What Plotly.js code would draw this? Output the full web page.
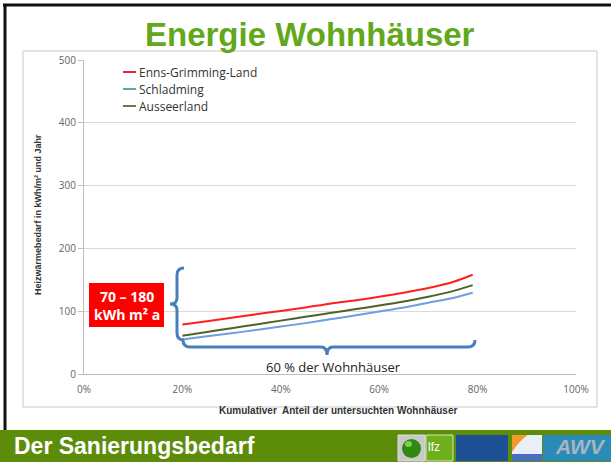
<!DOCTYPE html>
<html>
<head>
<meta charset="utf-8">
<script src="https://cdn.plot.ly/plotly-3.0.1.min.js"></script>
<style>
html,body{margin:0;padding:0;background:#fff;}
#chart{width:611px;height:462px;}
</style>
</head>
<body>
<div id="chart"></div>
<script>
// ---- data ----
const shareOfHouses = [0.20, 0.25, 0.30, 0.35, 0.40, 0.45, 0.50, 0.55, 0.60, 0.65, 0.70, 0.75, 0.79];
const ennsGrimmingLand = [79, 84, 89.5, 95, 100.5, 106, 112, 117, 123, 129.5, 137, 146.5, 158];
const schladming       = [55, 60, 65, 70, 75.5, 81, 87, 93, 99.5, 106, 113.5, 121, 129.5];
const ausseerland      = [61, 67, 73, 79, 85, 91, 97, 103, 109, 115.5, 123, 132, 141.5];
const seriesNames = ['Enns-Grimming-Land', 'Schladming', 'Ausseerland'];
const yTickValues = [0, 100, 200, 300, 400, 500];
const xTickValues = [0, 0.2, 0.4, 0.6, 0.8, 1.0];

const lineColors   = ['#ff1f1f', '#6e9ee0', '#4f6228'];
const legendColors = ['#ef2040', '#5fa8a6', '#6b7a45'];

// ---- geometry helpers (plot area in pixels) ----
const W = 611, H = 462, L = 84, R = 35, T = 60, B = 88;
const PW = W - L - R, PH = H - T - B;
const px = x => (x - L) / PW;
const py = y => (H - B - y) / PH;
function path(cmds) {
  return cmds.map(c => {
    const op = c[0]; const nums = c.slice(1); const out = [];
    for (let i = 0; i < nums.length; i += 2) out.push(px(nums[i]).toFixed(5) + ',' + py(nums[i+1]).toFixed(5));
    return op + out.join(' ');
  }).join(' ');
}
function note(x, y, text, font, extra) {
  return Object.assign({xref:'paper', yref:'paper', x: px(x), y: py(y), text: text, showarrow:false,
    xanchor:'center', yanchor:'middle', font: font}, extra || {});
}

const seriesValues = [ennsGrimmingLand, schladming, ausseerland];
const traces = seriesValues.map((vals, i) => ({
  type: 'scatter', mode: 'lines', x: shareOfHouses, y: vals, name: seriesNames[i],
  line: {color: lineColors[i], width: 2, shape: 'spline', smoothing: 0.8},
  showlegend: false, hoverinfo: 'skip'
}));

const shapes = [];
const annotations = [];

// slide frame
shapes.push({type:'line', xref:'paper', yref:'paper', x0: px(3), x1: px(W), y0: py(5), y1: py(5),
  line:{color:'#111', width:3}});
shapes.push({type:'line', xref:'paper', yref:'paper', x0: px(5), x1: px(5), y0: py(4), y1: py(431),
  line:{color:'#111', width:3}});
// chart box
shapes.push({type:'rect', xref:'paper', yref:'paper', x0: px(23), x1: px(597), y0: py(407), y1: py(51),
  line:{color:'#c8c8c8', width:1}, fillcolor:'rgba(0,0,0,0)', layer:'below'});
// bottom bar
shapes.push({type:'rect', xref:'paper', yref:'paper', x0: px(0), x1: px(W), y0: py(H), y1: py(430),
  line:{width:0}, fillcolor:'#5d8c0b'});

// logos
shapes.push({type:'rect', xref:'paper', yref:'paper', x0: px(398), x1: px(425), y0: py(461), y1: py(435), line:{color:'#e0e0e0', width:1}, fillcolor:'#c9c9c9'});
shapes.push({type:'circle', xref:'paper', yref:'paper', x0: px(402), x1: px(421), y0: py(458), y1: py(439), line:{width:0}, fillcolor:'#2f8a12'});
shapes.push({type:'circle', xref:'paper', yref:'paper', x0: px(405), x1: px(412), y0: py(447), y1: py(441), line:{width:0}, fillcolor:'#7fcf4f'});
shapes.push({type:'rect', xref:'paper', yref:'paper', x0: px(426), x1: px(453), y0: py(461), y1: py(435), line:{color:'#d8e8c0', width:1}, fillcolor:'#6fae1c'});
shapes.push({type:'rect', xref:'paper', yref:'paper', x0: px(456), x1: px(508), y0: py(461), y1: py(435), line:{width:0}, fillcolor:'#1d4f94'});
shapes.push({type:'rect', xref:'paper', yref:'paper', x0: px(512), x1: px(542), y0: py(461), y1: py(435), line:{width:0}, fillcolor:'#e9eef7'});
shapes.push({type:'path', xref:'paper', yref:'paper', line:{width:0}, fillcolor:'#f29a2e',
  path: path([['M',512,435], ['L',528,435], ['Q',520,440,512,452], ['Z']])});
shapes.push({type:'rect', xref:'paper', yref:'paper', x0: px(512), x1: px(542), y0: py(461), y1: py(454), line:{width:0}, fillcolor:'#4a6fc0'});
shapes.push({type:'rect', xref:'paper', yref:'paper', x0: px(543), x1: px(611), y0: py(461), y1: py(435), line:{width:0}, fillcolor:'#2b8bb8'});
annotations.push(note(434, 447, 'lfz', {family:'Liberation Sans, Arial', size:12, color:'#ffffff'}));
annotations.push(note(580, 446, '<i><b>AWV</b></i>', {family:'Liberation Sans, Arial', size:21, color:'#a9b5bd'}));

// red box
shapes.push({type:'rect', xref:'paper', yref:'paper', x0: px(89), x1: px(164), y0: py(327), y1: py(283),
  line:{width:0}, fillcolor:'#ff0000'});
annotations.push(note(126.5, 305, '<b>70 – 180</b><br><b>kWh m² a</b>',
  {family:'Open Sans, Liberation Sans', size:14, color:'#ffffff'}, {align:'center'}));

// braces
const braceStyle = {color:'#4a7ebb', width:3};
shapes.push({type:'path', xref:'paper', yref:'paper', line: braceStyle, path: path([
  ['M',184,268], ['Q',177,268,177,275], ['L',177,298], ['Q',177,304,170,304], ['Q',177,304,177,310],
  ['L',177,333], ['Q',177,340,184,340]])});
shapes.push({type:'path', xref:'paper', yref:'paper', line: braceStyle, path: path([
  ['M',183,340], ['Q',183,347,190,347], ['L',321,347], ['Q',327,347,327,355], ['Q',327,347,333,347],
  ['L',468,347], ['Q',475,347,475,340]])});
annotations.push(note(333, 367, '60 % der Wohnhäuser', {family:'Open Sans, Liberation Sans', size:13, color:'#222'}));

// custom legend
seriesNames.forEach((n, i) => {
  const yy = 72 + i * 17;
  shapes.push({type:'line', xref:'paper', yref:'paper', x0: px(123), x1: px(136), y0: py(yy), y1: py(yy),
    line:{color: legendColors[i], width: 2}});
  annotations.push(note(137, yy, n, {family:'Open Sans, Liberation Sans', size:12, color:'#333'}, {xanchor:'left'}));
});

// titles
annotations.push(note(310, 34, '<b>Energie Wohnhäuser</b>', {family:'Liberation Sans, Arial', size:33, color:'#62a81c'}));
annotations.push(note(12, 446, '<b>Der Sanierungsbedarf</b>', {family:'Liberation Sans, Arial', size:23, color:'#ffffff'}, {xanchor:'left'}));
annotations.push(note(38, 215, '<b>Heizwärmebedarf in kWh/m² und Jahr</b>',
  {family:'Liberation Sans, Arial', size:9, color:'#333'}, {textangle:-90}));
annotations.push(note(338, 410, '<b>Kumulativer  Anteil der untersuchten Wohnhäuser</b>',
  {family:'Liberation Sans, Arial', size:10, color:'#333'}));

const layout = {
  width: W, height: H,
  margin: {l: L, r: R, t: T, b: B, pad: 0},
  paper_bgcolor: '#ffffff', plot_bgcolor: 'rgba(0,0,0,0)',
  showlegend: false,
  xaxis: {range: [0, 1], tickvals: xTickValues, tickformat: '.0%', showgrid: false, zeroline: false,
    showline: true, linecolor: '#bfbfbf', linewidth: 1, ticks: '', fixedrange: true, ticklabelstandoff: 6,
    tickfont: {family: 'Open Sans, Liberation Sans', size: 10, color: '#666'}},
  yaxis: {range: [0, 500], tickvals: yTickValues, showgrid: true, gridcolor: '#d9d9d9', zeroline: false,
    showline: true, linecolor: '#bfbfbf', linewidth: 1, ticks: 'outside', ticklen: 5, tickcolor: '#bfbfbf',
    fixedrange: true, tickfont: {family: 'Open Sans, Liberation Sans', size: 10, color: '#666'}},
  shapes: shapes, annotations: annotations
};

Plotly.newPlot('chart', traces, layout, {displayModeBar: false, staticPlot: true});
</script>
</body>
</html>
